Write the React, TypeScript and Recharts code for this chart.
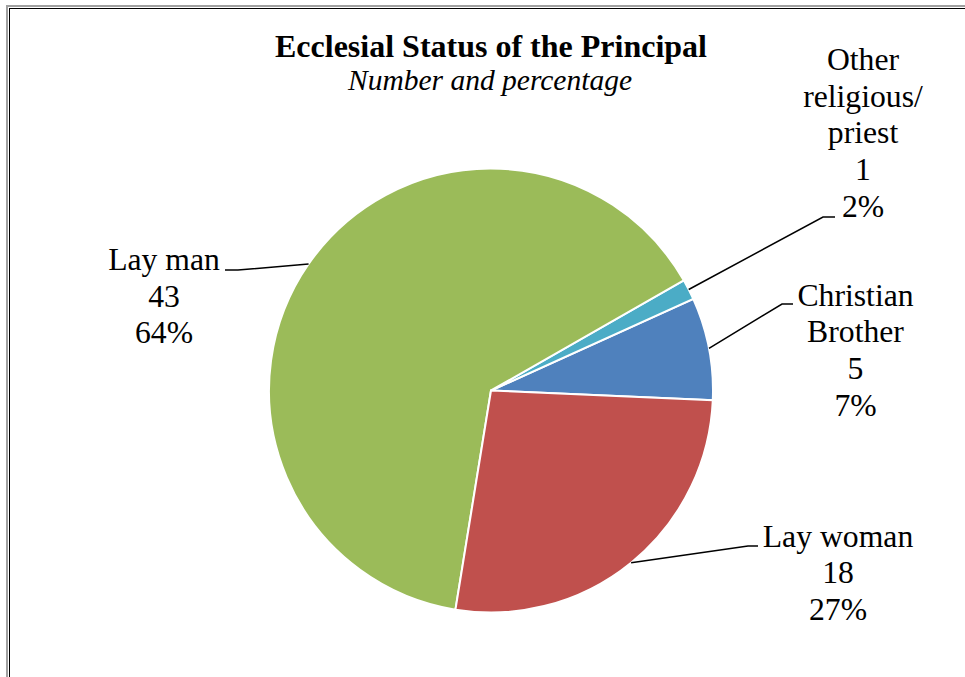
import { PieChart, Pie, Cell } from "recharts";

const categories = ["Christian Brother", "Other religious/ priest", "Lay man", "Lay woman"];
const counts = [5, 1, 43, 18];
const percentLabels = ["7%", "2%", "64%", "27%"];
const nameLines = [["Christian", "Brother"], ["Other", "religious/", "priest"], ["Lay man"], ["Lay woman"]];
const sliceColors = ["#4F81BD", "#4BACC6", "#9BBB59", "#C0504D"];

const chartTitle = "Ecclesial Status of the Principal";
const chartSubtitle = "Number and percentage";

// where each data label sits (elbow of the leader line, its end, text centre, first baseline)
const labelLayout = [
  { elbow: [782, 304], end: [793, 304], textX: 855.5, firstBaseline: 305.5 },
  { elbow: [823, 217], end: [835, 217], textX: 863, firstBaseline: 70 },
  { elbow: [238, 270], end: [225, 270], textX: 164, firstBaseline: 270 },
  { elbow: [748, 546], end: [758, 546], textX: 838, firstBaseline: 546.7 },
];

const data = categories.map((name, i) => ({ name, value: counts[i] }));

const FONT = "'Liberation Serif', 'Times New Roman', serif";
const LINE_STEP = 36.7;
const RADIAN = Math.PI / 180;

function renderLabel(props: any) {
  const { cx, cy, midAngle, outerRadius, index } = props;
  const sx = cx + outerRadius * Math.cos(-midAngle * RADIAN);
  const sy = cy + outerRadius * Math.sin(-midAngle * RADIAN);
  const layout = labelLayout[index];
  const lines = [...nameLines[index], String(counts[index]), percentLabels[index]];
  return (
    <g key={`lbl-${index}`}>
      <polyline
        points={`${sx},${sy} ${layout.elbow[0]},${layout.elbow[1]} ${layout.end[0]},${layout.end[1]}`}
        fill="none"
        stroke="#000"
        strokeWidth={1.5}
      />
      <text
        x={layout.textX}
        y={layout.firstBaseline}
        textAnchor="middle"
        style={{ fontFamily: FONT, fontSize: 31.7, fill: "#000" }}
      >
        {lines.map((ln, k) => (
          <tspan key={k} x={layout.textX} y={layout.firstBaseline + k * LINE_STEP}>
            {ln}
          </tspan>
        ))}
      </text>
    </g>
  );
}

export default function App() {
  return (
    <div
      style={{
        position: "absolute",
        left: 0,
        top: 0,
        width: 965,
        height: 677,
        overflow: "hidden",
        background: "#fff",
        fontFamily: FONT,
      }}
    >
      <svg width={965} height={677} style={{ position: "absolute", left: 0, top: 0 }}>
        <text x={491} y={57} textAnchor="middle" style={{ fontFamily: FONT, fontSize: 32, fontWeight: "bold" }} fill="#000">
          {chartTitle}
        </text>
        <text x={490} y={90} textAnchor="middle" style={{ fontFamily: FONT, fontSize: 29.5, fontStyle: "italic" }} fill="#000">
          {chartSubtitle}
        </text>
      </svg>
      <div style={{ position: "absolute", left: 0, top: 0 }}>
        <PieChart width={965} height={677} margin={{ top: 0, right: 0, bottom: 0, left: 0 }}>
          <Pie
            data={data}
            dataKey="value"
            nameKey="name"
            cx={491}
            cy={390.5}
            outerRadius={222}
            startAngle={-2.5}
            endAngle={357.5}
            stroke="#fff"
            strokeWidth={2}
            label={renderLabel}
            labelLine={false}
            isAnimationActive={false}
          >
            {data.map((d, i) => (
              <Cell key={d.name} fill={sliceColors[i]} />
            ))}
          </Pie>
        </PieChart>
      </div>
      <div
        style={{
          position: "absolute",
          left: 6,
          top: 5,
          width: 1100,
          height: 800,
          borderLeft: "2px solid #a0a0a0",
          borderTop: "2px solid #a0a0a0",
          pointerEvents: "none",
        }}
      />
      <div
        style={{
          position: "absolute",
          left: 9,
          top: 8,
          width: 1100,
          height: 800,
          borderLeft: "1px solid #000",
          borderTop: "1px solid #000",
          pointerEvents: "none",
        }}
      />
    </div>
  );
}
